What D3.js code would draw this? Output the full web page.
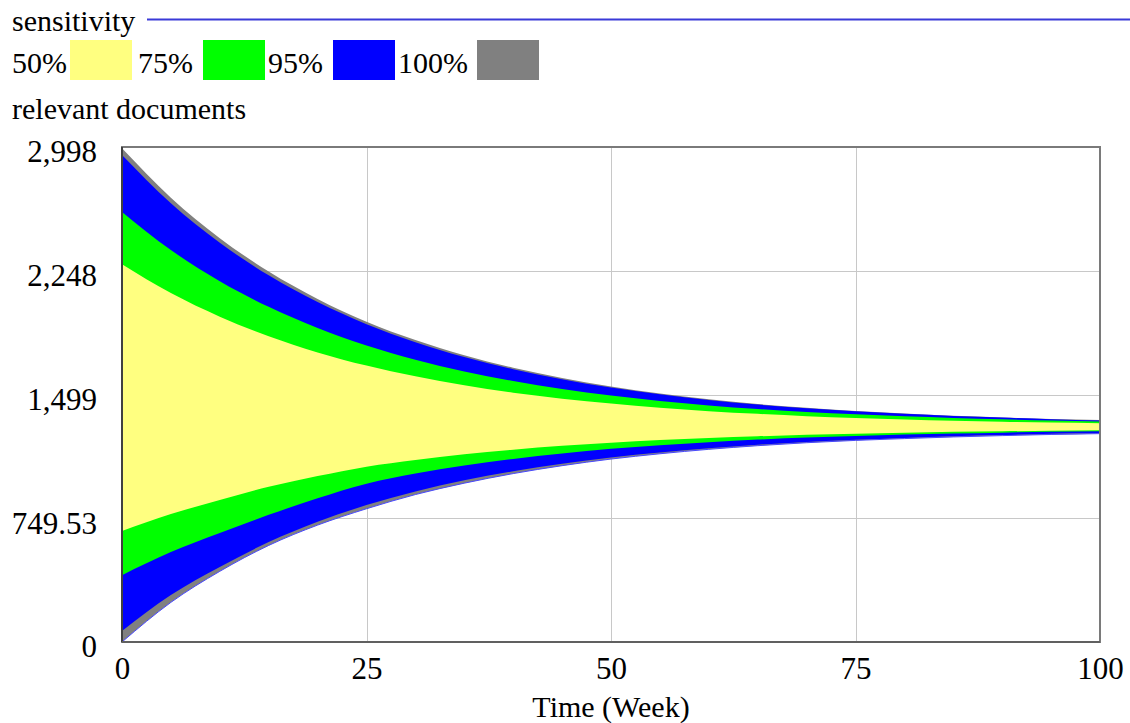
<!DOCTYPE html>
<html>
<head>
<meta charset="utf-8">
<script src="https://cdn.jsdelivr.net/npm/d3@7"></script>
<style>
  html, body { margin: 0; padding: 0; background: #fff; }
  svg text { font-family: "Liberation Serif", "Times New Roman", serif; fill: #000; }
</style>
</head>
<body>
<svg width="1130" height="723"></svg>
<script>
// ---- data ----
var weeks = [0, 5, 10, 15, 20, 25, 30, 35, 40, 45, 50, 55, 60, 65, 70, 75, 80, 85, 90, 95, 100];

var upper100 = [2990, 2691, 2446, 2244, 2078, 1940, 1829, 1737, 1661, 1599, 1547, 1505, 1470, 1441, 1418, 1399, 1384, 1370, 1360, 1350, 1344];
var upper95  = [2949, 2657, 2418, 2221, 2059, 1925, 1816, 1726, 1652, 1592, 1541, 1500, 1466, 1438, 1415, 1397, 1382, 1369, 1359, 1349, 1341];
var upper75  = [2605, 2374, 2185, 2030, 1902, 1796, 1710, 1639, 1581, 1533, 1493, 1460, 1433, 1411, 1393, 1379, 1367, 1357, 1349, 1341, 1336];
var upper50  = [2288, 2113, 1970, 1852, 1754, 1674, 1609, 1555, 1510, 1474, 1444, 1419, 1398, 1382, 1368, 1357, 1348, 1340, 1334, 1329, 1325];
var lower50  = [673, 775, 860, 940, 1005, 1062, 1103, 1137, 1165, 1188, 1207, 1223, 1236, 1246, 1255, 1262, 1268, 1273, 1276, 1280, 1283];
var lower75  = [405, 545, 660, 770, 870, 958, 1020, 1069, 1109, 1142, 1170, 1192, 1210, 1226, 1238, 1248, 1256, 1263, 1268, 1274, 1277];
var lower95  = [67, 285, 455, 605, 728, 829, 912, 979, 1034, 1080, 1118, 1148, 1174, 1195, 1212, 1225, 1236, 1246, 1253, 1261, 1266];
var lower100 = [0, 240, 428, 585, 708, 807, 893, 962, 1020, 1068, 1108, 1140, 1167, 1189, 1207, 1221, 1232, 1242, 1250, 1257, 1262];

var levels = ['50%', '75%', '95%', '100%'];
var xTicks = [0, 25, 50, 75, 100];
var yTicks = [0, 749.53, 1499, 2248, 2998];
var yTickLabels = ['0', '749.53', '1,499', '2,248', '2,998'];

var colors = { '50%': '#ffff80', '75%': '#00ff00', '95%': '#0000ff', '100%': '#808080' };

// bands, widest first so narrower ones sit on top
var bands = [
  { level: '100%', lo: lower100, hi: upper100 },
  { level: '95%', lo: lower95, hi: upper95 },
  { level: '75%', lo: lower75, hi: upper75 },
  { level: '50%', lo: lower50, hi: upper50 }
];

var svg = d3.select('svg');
var margin = { left: 122, right: 30, top: 147, bottom: 81 };
var width = +svg.attr('width'), height = +svg.attr('height');

var x = d3.scaleLinear().domain([0, 100]).range([margin.left, width - margin.right]);
var y = d3.scaleLinear().domain([0, 2998]).range([height - margin.bottom, margin.top]);

var fontSize = 30, tickFontSize = 31;

/* ---
LEGEND
--- */
svg.append('text')
  .attr('x', 12).attr('y', 31)
  .style('font-size', fontSize + 'px')
  .text('sensitivity');

svg.append('line')
  .attr('x1', 147).attr('x2', width)
  .attr('y1', 19.5).attr('y2', 19.5)
  .attr('stroke', '#3a3ad8')
  .attr('stroke-width', 2);

// legend entries: label, then colour swatch
var legendTextX = [12, 138, 268, 398];
var legendSwatchX = [70, 203, 333, 477];
levels.forEach(function(l, i) {
  svg.append('text')
    .attr('x', legendTextX[i]).attr('y', 73)
    .style('font-size', fontSize + 'px')
    .text(l);
  svg.append('rect')
    .attr('x', legendSwatchX[i]).attr('y', 40)
    .attr('width', 62).attr('height', 40)
    .attr('fill', colors[l]);
});

svg.append('text')
  .attr('x', 12).attr('y', 119)
  .style('font-size', fontSize + 'px')
  .text('relevant documents');

/* ---
GRID
--- */
var grid = svg.append('g').attr('class', 'grid');
grid.selectAll('.vgrid')
  .data(xTicks.slice(1, -1))
  .enter().append('line')
  .attr('x1', function(d) { return Math.round(x(d)) + 0.5; })
  .attr('x2', function(d) { return Math.round(x(d)) + 0.5; })
  .attr('y1', y(2998)).attr('y2', y(0))
  .attr('stroke', '#c8c8c8').attr('stroke-width', 1);

grid.selectAll('.hgrid')
  .data(yTicks.slice(1, -1))
  .enter().append('line')
  .attr('x1', x(0)).attr('x2', x(100))
  .attr('y1', function(d) { return Math.round(y(d)) + 0.5; })
  .attr('y2', function(d) { return Math.round(y(d)) + 0.5; })
  .attr('stroke', '#c8c8c8').attr('stroke-width', 1);

/* ---
BANDS
--- */
var area = d3.area()
  .x(function(d) { return x(d.t); })
  .y0(function(d) { return y(d.lo); })
  .y1(function(d) { return y(d.hi); })
  .curve(d3.curveMonotoneX);

svg.append('g').attr('class', 'bands')
  .selectAll('path')
  .data(bands)
  .enter().append('path')
  .attr('d', function(b) {
    return area(weeks.map(function(t, i) { return { t: t, lo: b.lo[i], hi: b.hi[i] }; }));
  })
  .attr('fill', function(b) { return colors[b.level]; });

// thin blue rim under the lowest edge
svg.append('path')
  .datum(weeks.map(function(t, i) { return { t: t, v: lower100[i] }; }))
  .attr('d', d3.line()
    .x(function(d) { return x(d.t); })
    .y(function(d) { return y(d.v); })
    .curve(d3.curveMonotoneX))
  .attr('fill', 'none')
  .attr('stroke', '#4848ff')
  .attr('stroke-width', 1);

/* ---
FRAME + AXES
--- */
svg.append('rect')
  .attr('x', x(0)).attr('y', y(2998))
  .attr('width', x(100) - x(0)).attr('height', y(0) - y(2998))
  .attr('fill', 'none')
  .attr('stroke', '#7a7a7a')
  .attr('stroke-width', 2);

svg.append('line')
  .attr('x1', x(0)).attr('x2', x(0))
  .attr('y1', y(2998)).attr('y2', y(0))
  .attr('stroke', '#404040').attr('stroke-width', 2);
svg.append('line')
  .attr('x1', x(0)).attr('x2', x(100))
  .attr('y1', y(0)).attr('y2', y(0))
  .attr('stroke', '#606060').attr('stroke-width', 2);

var yAxis = d3.axisLeft(y)
  .tickValues(yTicks)
  .tickSize(0)
  .tickPadding(0)
  .tickFormat(function(d, i) { return yTickLabels[i]; });

svg.append('g')
  .attr('transform', 'translate(' + (x(0) - 25) + ',5)')
  .call(yAxis)
  .call(function(g) { g.select('.domain').remove(); })
  .selectAll('text')
  .style('font-size', tickFontSize + 'px')
  .style('font-family', '"Liberation Serif", "Times New Roman", serif')
  .attr('fill', '#000');

var xAxis = d3.axisBottom(x)
  .tickValues(xTicks)
  .tickSize(0)
  .tickPadding(0);

svg.append('g')
  .attr('transform', 'translate(0,' + (y(0) + 15) + ')')
  .call(xAxis)
  .call(function(g) { g.select('.domain').remove(); })
  .selectAll('text')
  .style('font-size', tickFontSize + 'px')
  .style('font-family', '"Liberation Serif", "Times New Roman", serif')
  .attr('fill', '#000');

svg.append('text')
  .attr('x', x(50)).attr('y', 717)
  .attr('text-anchor', 'middle')
  .style('font-size', fontSize + 'px')
  .text('Time (Week)');
</script>
</body>
</html>
